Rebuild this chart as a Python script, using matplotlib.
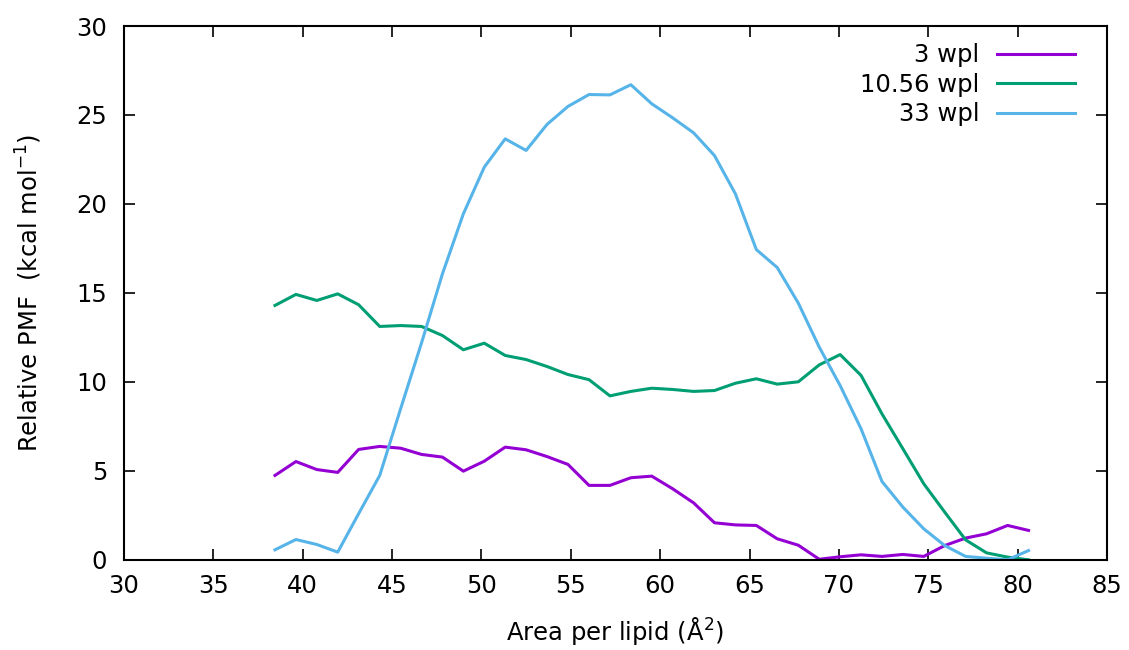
import matplotlib
matplotlib.use("Agg")
import matplotlib.pyplot as plt

# area per lipid (Å^2), sampled windows
area = [38.45, 39.62, 40.79, 41.96, 43.13, 44.31, 45.48, 46.65, 47.82, 48.99,
        50.16, 51.33, 52.50, 53.67, 54.84, 56.02, 57.19, 58.36, 59.53, 60.70,
        61.87, 63.04, 64.21, 65.38, 66.55, 67.73, 68.90, 70.07, 71.24, 72.41,
        73.58, 74.75, 75.92, 77.09, 78.26, 79.44, 80.61]

pmf_3 = [4.75, 5.53, 5.08, 4.92, 6.21, 6.38, 6.28, 5.93, 5.78, 4.99,
         5.55, 6.34, 6.19, 5.81, 5.37, 4.19, 4.19, 4.62, 4.71, 4.00,
         3.21, 2.09, 1.97, 1.94, 1.19, 0.83, 0.04, 0.18, 0.29, 0.20,
         0.31, 0.20, 0.81, 1.23, 1.47, 1.94, 1.66]

pmf_1056 = [14.30, 14.92, 14.58, 14.95, 14.34, 13.12, 13.17, 13.12, 12.61, 11.81,
            12.18, 11.49, 11.26, 10.87, 10.42, 10.13, 9.22, 9.47, 9.65, 9.58,
            9.47, 9.52, 9.93, 10.18, 9.88, 10.01, 10.96, 11.54, 10.37, 8.21,
            6.25, 4.28, 2.69, 1.13, 0.40, 0.16, 0.01]

pmf_33 = [0.57, 1.15, 0.87, 0.44, 2.60, 4.75, 8.50, 12.20, 16.08, 19.45,
          22.07, 23.66, 23.01, 24.47, 25.48, 26.15, 26.13, 26.70, 25.63, 24.84,
          24.00, 22.72, 20.57, 17.44, 16.43, 14.43, 11.96, 9.80, 7.37, 4.41,
          2.97, 1.75, 0.81, 0.20, 0.10, 0.01, 0.53]

labels = ["3 wpl", "10.56 wpl", "33 wpl"]
colors = ["#9400D3", "#009E73", "#56B4E9"]

fs = 17.5
plt.rcParams["font.family"] = "DejaVu Sans"
fig = plt.figure(figsize=(11.29, 6.5), dpi=100)
ax = fig.add_axes([0.1098, 0.1385, 0.8707, 0.8215])

for y, lab, c in zip([pmf_3, pmf_1056, pmf_33], labels, colors):
    ax.plot(area, y, color=c, lw=2.2, label=lab)

ax.set_xlim(30, 85)
ax.set_ylim(0, 30)
ax.set_xticks(range(30, 86, 5))
ax.set_yticks(range(0, 31, 5))
ax.tick_params(direction="in", length=8, width=1.2, top=True, right=True,
               labelsize=fs)
ax.tick_params(axis="x", pad=10)
ax.tick_params(axis="y", pad=12)
for s in ax.spines.values():
    s.set_linewidth(1.5)

ax.set_xlabel("Area per lipid (Å$^2$)", fontsize=fs, labelpad=12)
ax.set_ylabel("Relative PMF  (kcal mol$^{-1}$)", fontsize=fs, labelpad=23)

leg = ax.legend(loc="upper right", bbox_to_anchor=(0.9675, 0.968),
                frameon=False, fontsize=fs, markerfirst=False,
                handlelength=3.2, handletextpad=0.74, labelspacing=0.23,
                borderpad=0, borderaxespad=0)
for t in leg.get_texts():
    t.set_ha("right")
leg._legend_box.align = "right"

fig.savefig("out.png", dpi=100)
